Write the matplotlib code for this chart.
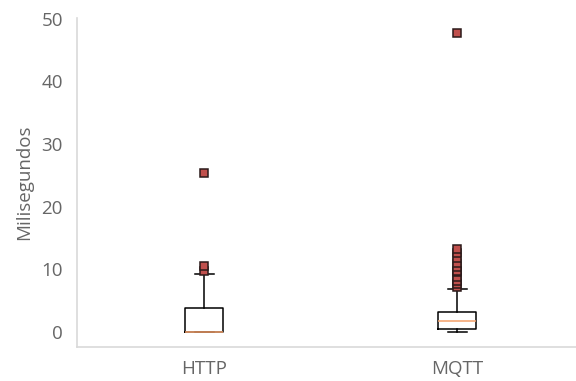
import matplotlib
matplotlib.use("Agg")
import matplotlib.pyplot as plt

plt.rcParams['font.family'] = ['Open Sans', 'DejaVu Sans']

protocols = ["HTTP", "MQTT"]
q1 = [0.0, 0.45]
median = [0.0, 1.75]
q3 = [3.9, 3.2]
whisker_low = [0.0, 0.0]
whisker_high = [9.2, 6.9]
outliers = [
    [9.8, 10.5, 25.4],
    [7.2, 7.6, 8.2, 8.8, 9.5, 9.8, 10.3, 11.0, 11.8, 12.6, 13.3, 47.7],
]
y_ticks = [0, 10, 20, 30, 40, 50]

stats = []
for i, name in enumerate(protocols):
    stats.append(dict(label=name, q1=q1[i], med=median[i], q3=q3[i],
                      whislo=whisker_low[i], whishi=whisker_high[i],
                      fliers=outliers[i]))

fig = plt.figure(figsize=(5.76, 3.81), dpi=100)
ax = fig.add_axes([0.1345, 0.0892, 0.879, 0.8636])

ax.bxp(stats, widths=0.15, showfliers=True,
       boxprops=dict(color="black", linewidth=1.1),
       whiskerprops=dict(color="black", linewidth=1.1),
       capprops=dict(color="black", linewidth=1.1),
       medianprops=dict(color="#f4a06a", linewidth=1.1),
       flierprops=dict(marker="s", markerfacecolor="#c0504d",
                       markeredgecolor="#2b1a1a", markersize=6.2,
                       markeredgewidth=1.1, linestyle="none"))

ax.set_xlim(0.5, 2.5)
ax.set_yticks(y_ticks)
ax.set_ylabel("Milisegundos", color="#666666", fontsize=13.5, labelpad=6)

for side in ("top", "right"):
    ax.spines[side].set_visible(False)
for side in ("left", "bottom"):
    ax.spines[side].set_color("#d9d9d9")
    ax.spines[side].set_linewidth(1.2)

ax.tick_params(axis="both", length=0, colors="#666666", labelsize=13.5)
ax.tick_params(axis="y", pad=10.5)
ax.tick_params(axis="x", pad=9)

fig.savefig("out.png", dpi=100)
